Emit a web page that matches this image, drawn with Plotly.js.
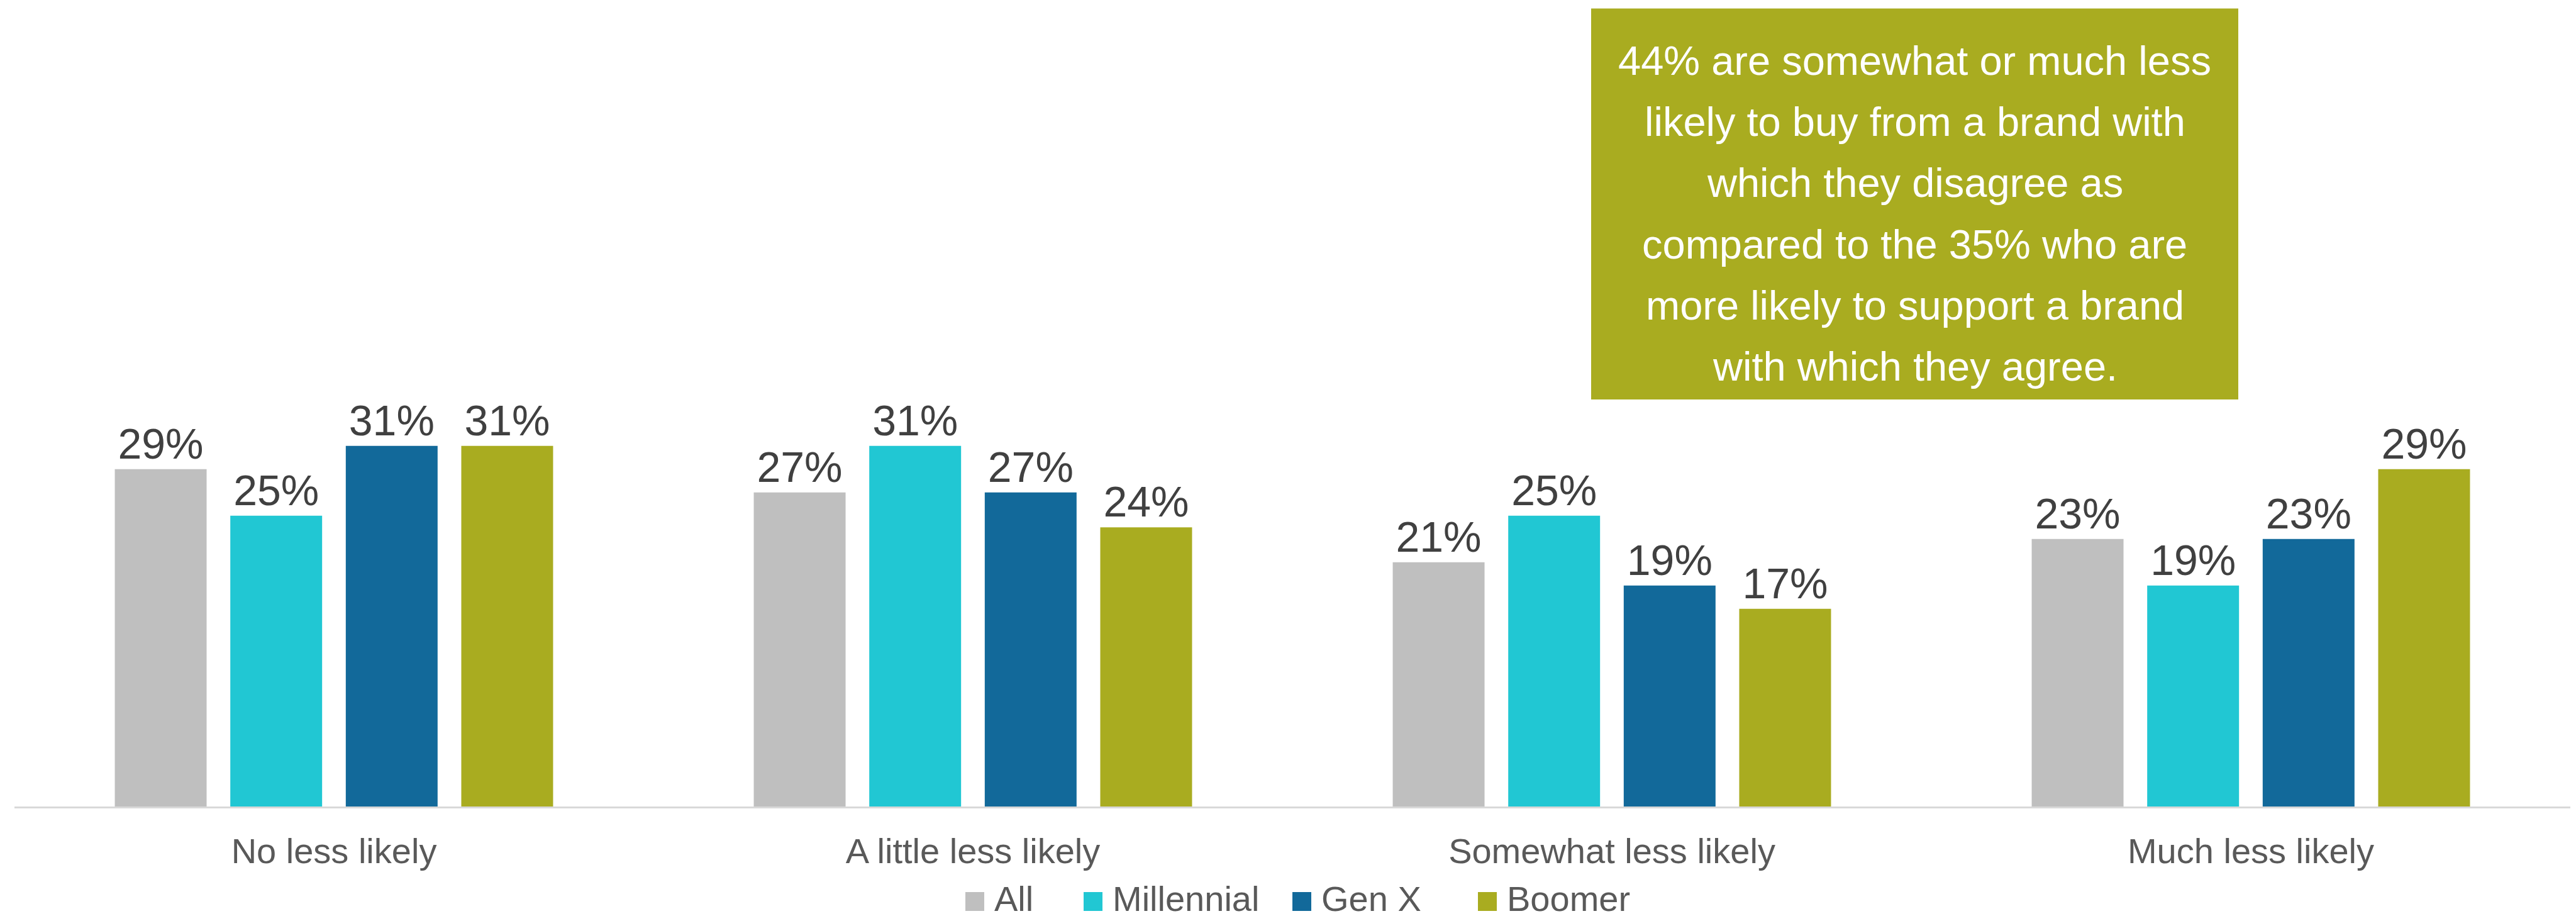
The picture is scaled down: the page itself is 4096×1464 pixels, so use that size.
<!DOCTYPE html>
<html>
<head>
<meta charset="utf-8">
<script src="https://cdn.plot.ly/plotly-3.0.1.min.js"></script>
<style>
html,body{margin:0;padding:0;background:#fff;}
#chart{width:4096px;height:1464px;}
</style>
</head>
<body>
<div id="chart"></div>
<script>
// ---- Data ----
const categories = ["No less likely", "A little less likely", "Somewhat less likely", "Much less likely"];
const seriesNames = ["All", "Millennial", "Gen X", "Boomer"];
const allValues = [29, 27, 21, 23];
const millennialValues = [25, 31, 25, 19];
const genXValues = [31, 27, 19, 23];
const boomerValues = [31, 24, 17, 29];
const calloutLines = [
  "44% are somewhat or much less",
  "likely to buy from a brand with",
  "which they disagree as",
  "compared to the 35% who are",
  "more likely to support a brand",
  "with which they agree."
];

// ---- Styles ----
const colors = ["#BFBFBF", "#21C7D3", "#12699A", "#A9AC20"];
const FONT = "Liberation Sans, Arial, sans-serif";
const W = 4096, H = 1464;
const M = {l: 23, r: 9, t: 0, b: 182};
const plotW = W - M.l - M.r, plotH = H - M.t - M.b;
const px2x = p => (p - M.l) / plotW;
const py2y = p => (M.t + plotH - p) / plotH;

const valueSets = [allValues, millennialValues, genXValues, boomerValues];
const traces = valueSets.map((vals, i) => ({
  type: "bar",
  name: seriesNames[i],
  x: categories,
  y: vals,
  marker: {color: colors[i]},
  text: vals.map(v => v + "%"),
  textposition: "outside",
  textfont: {family: FONT, size: 68, color: "#404040"},
  constraintext: "none",
  cliponaxis: false,
  hoverinfo: "skip",
  showlegend: false
}));

const annotations = [];
const shapes = [{
  type: "rect", xref: "paper", yref: "paper",
  x0: px2x(2530), x1: px2x(3559), y0: py2y(635), y1: py2y(13.4),
  fillcolor: "#A9AC20", line: {width: 0}, layer: "below"
}];
// callout text lines
const lineY = [97, 194, 291, 388, 485, 582];
calloutLines.forEach((t, i) => {
  annotations.push({
    xref: "paper", yref: "paper",
    x: px2x(3044.5), y: py2y(lineY[i]),
    xanchor: "center", yanchor: "middle",
    text: t, showarrow: false,
    font: {family: FONT, size: 65, color: "#FFFFFF"}
  });
});
// legend: coloured squares + labels
const legendX = [1535, 1723, 2055, 2350];
const legendY = 1429, sq = 30;
seriesNames.forEach((n, i) => {
  shapes.push({
    type: "rect", xref: "paper", yref: "paper",
    x0: px2x(legendX[i]), x1: px2x(legendX[i] + sq),
    y0: py2y(legendY + 4 + sq / 2), y1: py2y(legendY + 4 - sq / 2),
    fillcolor: colors[i], line: {width: 0}
  });
  annotations.push({
    xref: "paper", yref: "paper",
    x: px2x(legendX[i] + sq + 14), y: py2y(legendY),
    xanchor: "left", yanchor: "middle",
    text: n, showarrow: false,
    font: {family: FONT, size: 56, color: "#595959"}
  });
});

const layout = {
  width: W, height: H,
  margin: M,
  paper_bgcolor: "#FFFFFF",
  plot_bgcolor: "#FFFFFF",
  barmode: "group",
  bargap: 0.277,
  bargroupgap: 0.205,
  showlegend: false,
  xaxis: {
    type: "category",
    showline: true, linecolor: "#D9D9D9", linewidth: 3,
    ticks: "", ticklen: 0,
    tickfont: {family: FONT, size: 56, color: "#595959"},
    ticklabelstandoff: 20,
    showgrid: false, zeroline: false, fixedrange: true
  },
  yaxis: {
    range: [0, plotH / 18.49],
    visible: false, showgrid: false, zeroline: false, fixedrange: true
  },
  shapes: shapes,
  annotations: annotations
};

Plotly.newPlot("chart", traces, layout, {staticPlot: true, displayModeBar: false});
</script>
</body>
</html>
